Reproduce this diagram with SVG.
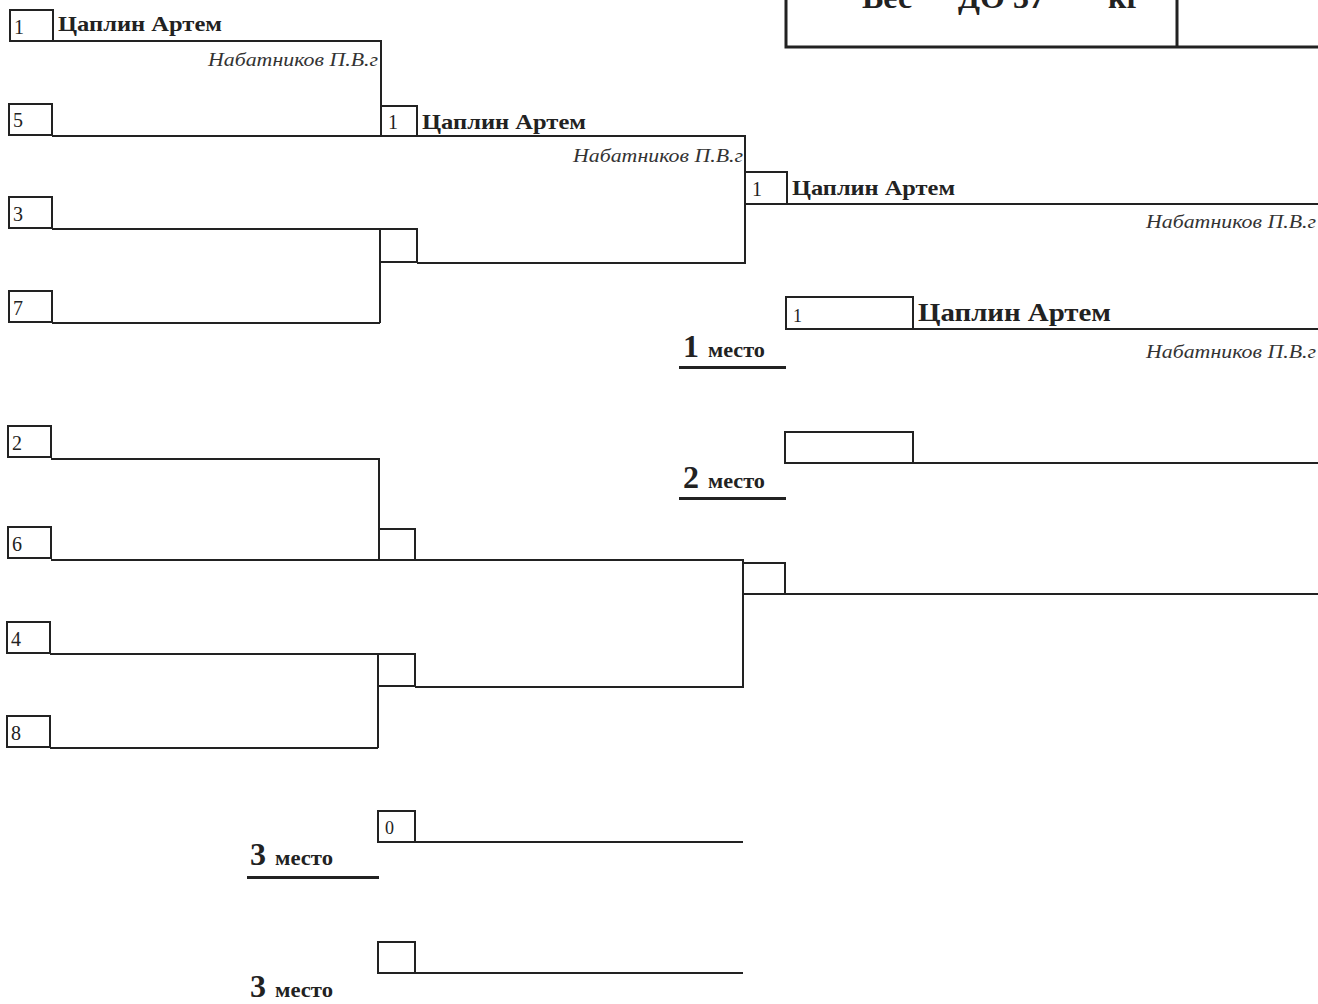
<svg xmlns="http://www.w3.org/2000/svg" width="1318" height="1004" viewBox="0 0 1318 1004">
<style>
.ln{fill:none;stroke:#222;stroke-width:2}
.bx{fill:none;stroke:#222;stroke-width:2}
.num{font-family:"Liberation Serif",serif;font-size:20px;fill:#222}
.nm{font-family:"Liberation Serif",serif;font-size:21px;font-weight:bold;fill:#222}
.co{font-family:"Liberation Serif",serif;font-size:18px;font-style:italic;fill:#333}
.pl{font-family:"Liberation Serif",serif;font-weight:bold;fill:#222}
.hd{font-family:"Liberation Serif",serif;font-size:32px;font-weight:bold;fill:#222}
</style>
<rect width="1318" height="1004" fill="#fff"/>
<g id="header">
<path d="M786 0 V47 H1318 M1177 0 V47" fill="none" stroke="#222" stroke-width="3"/>
<text class="hd" x="862" y="8">Вес</text>
<text class="hd" x="958" y="8">ДО 37</text>
<text class="hd" x="1108" y="8">кг</text>
</g>
<g id="connectors">
<path class="ln" d="M53 41 H381 V136"/>
<path class="ln" d="M52 136 H745 V264"/>
<path class="ln" d="M52 229 H417"/>
<path class="ln" d="M380 229 V323"/>
<path class="ln" d="M52 323 H380"/>
<path class="ln" d="M417 263 H745"/>
<path class="ln" d="M787 204 H1318"/>
<path class="ln" d="M913 329 H1318"/>
<path class="ln" d="M913 463 H1318"/>
<path class="ln" d="M51 459 H379 V560"/>
<path class="ln" d="M51 560 H743 V688"/>
<path class="ln" d="M785 594 H1318"/>
<path class="ln" d="M50 654 H415"/>
<path class="ln" d="M378 654 V748"/>
<path class="ln" d="M50 748 H378"/>
<path class="ln" d="M415 687 H743"/>
<path class="ln" d="M415 842 H743"/>
<path class="ln" d="M415 973 H743"/>
</g>
<g id="n1"><rect class="bx" x="10" y="10" width="43" height="31"/><text class="num" x="14" y="34">1</text><text class="nm" x="58" y="31" textLength="164" lengthAdjust="spacingAndGlyphs">Цаплин Артем</text><text class="co" x="208" y="66" textLength="170" lengthAdjust="spacingAndGlyphs">Набатников П.В.г</text></g>
<g id="n5"><rect class="bx" x="9" y="104" width="43" height="31"/><text class="num" x="13" y="127">5</text></g>
<g id="n3"><rect class="bx" x="9" y="197" width="43" height="31"/><text class="num" x="13" y="221">3</text></g>
<g id="n7"><rect class="bx" x="9" y="291" width="43" height="31"/><text class="num" x="13" y="315">7</text></g>
<g id="n2"><rect class="bx" x="8" y="426" width="43" height="31"/><text class="num" x="12" y="450">2</text></g>
<g id="n6"><rect class="bx" x="8" y="527" width="43" height="31"/><text class="num" x="12" y="551">6</text></g>
<g id="n4"><rect class="bx" x="7" y="622" width="43" height="31"/><text class="num" x="11" y="646">4</text></g>
<g id="n8"><rect class="bx" x="7" y="716" width="43" height="31"/><text class="num" x="11" y="740">8</text></g>
<g id="r2a"><rect class="bx" x="381" y="106" width="36" height="30"/><text class="num" x="388" y="129">1</text><text class="nm" x="422" y="129" textLength="164" lengthAdjust="spacingAndGlyphs">Цаплин Артем</text><text class="co" x="573" y="162" textLength="170" lengthAdjust="spacingAndGlyphs">Набатников П.В.г</text></g>
<g id="r2b"><rect class="bx" x="380" y="229" width="37" height="33"/></g>
<g id="r2c"><rect class="bx" x="379" y="529" width="36" height="31"/></g>
<g id="r2d"><rect class="bx" x="378" y="654" width="37" height="32"/></g>
<g id="r3a"><rect class="bx" x="745" y="172" width="42" height="32"/><text class="num" x="752" y="196">1</text><text class="nm" x="792" y="195" textLength="163" lengthAdjust="spacingAndGlyphs">Цаплин Артем</text><text class="co" x="1146" y="228" textLength="170" lengthAdjust="spacingAndGlyphs">Набатников П.В.г</text></g>
<g id="r3b"><rect class="bx" x="743" y="563" width="42" height="31"/></g>
<g id="place1"><rect class="bx" x="786" y="297" width="127" height="32"/><text class="num" x="793" y="322" style="font-size:18px">1</text><text class="nm" x="918" y="321" style="font-size:25px" textLength="193" lengthAdjust="spacingAndGlyphs">Цаплин Артем</text><text class="co" x="1146" y="358" textLength="170" lengthAdjust="spacingAndGlyphs">Набатников П.В.г</text>
<text class="pl" x="683" y="357"><tspan style="font-size:32px">1</tspan><tspan x="708" style="font-size:20px" textLength="57" lengthAdjust="spacingAndGlyphs">место</tspan></text><rect x="679" y="366" width="107" height="3" fill="#222"/></g>
<g id="place2"><rect class="bx" x="785" y="432" width="128" height="31"/><text class="pl" x="683" y="488"><tspan style="font-size:32px">2</tspan><tspan x="708" style="font-size:20px" textLength="57" lengthAdjust="spacingAndGlyphs">место</tspan></text><rect x="679" y="497" width="107" height="3" fill="#222"/></g>
<g id="place3a"><rect class="bx" x="378" y="811" width="37" height="31"/><text class="num" x="385" y="834" style="font-size:18px">0</text><text class="pl" x="250" y="865"><tspan style="font-size:32px">3</tspan><tspan x="275" style="font-size:20px" textLength="58" lengthAdjust="spacingAndGlyphs">место</tspan></text><rect x="247" y="876" width="132" height="3" fill="#222"/></g>
<g id="place3b"><rect class="bx" x="378" y="942" width="37" height="31"/><text class="pl" x="250" y="997"><tspan style="font-size:32px">3</tspan><tspan x="275" style="font-size:20px" textLength="58" lengthAdjust="spacingAndGlyphs">место</tspan></text></g>
</svg>
